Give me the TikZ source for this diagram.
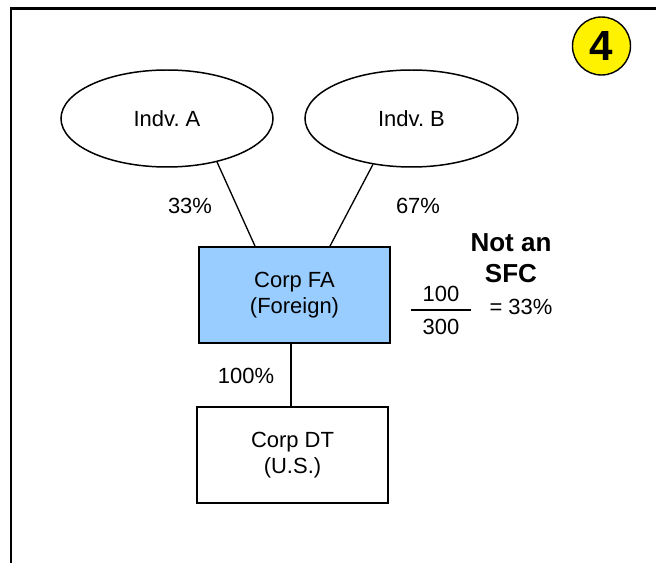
\documentclass[tikz,border=0pt]{standalone}
\usepackage{fontspec}
\setmainfont{Liberation Sans}
\usetikzlibrary{shapes.geometric}

\definecolor{boxblue}{HTML}{99CCFF}
\tikzset{
  owner/.style={ellipse,draw,line width=0.85pt,minimum width=4.24cm,minimum height=1.94cm,inner sep=0pt,font=\fontsize{12.5}{14.8}\selectfont},
  corp/.style={rectangle,draw,line width=1pt,minimum width=3.82cm,minimum height=1.92cm,align=center,font=\fontsize{12.5}{14.8}\selectfont},
  pct/.style={font=\fontsize{12.5}{14.8}\selectfont},
  link/.style={line width=0.75pt}
}

\begin{document}
\frenchspacing
\begin{tikzpicture}
    \useasboundingbox (0,0) rectangle (13.12,-11.26);
    \draw[line width=1.7pt] (0.22,-11.26) -- (0.22,-0.17) -- (13.12,-0.17);

    \node[circle,draw,line width=0.8pt,fill=yellow,minimum size=1.16cm,inner sep=0pt,font=\bfseries\fontsize{24}{28}\selectfont] (badge) at (12.03,-0.92) {4};

    \node[owner] (indA) at (3.34,-2.37) {Indv.\ A};
    \node[owner,minimum width=4.26cm] (indB) at (8.23,-2.37) {Indv.\ B};
    \node[corp,fill=boxblue] (corpFA) at (5.89,-5.90) {Corp FA\\(Foreign)};
    \node[corp] (corpDT) at (5.85,-9.10) {Corp DT\\(U.S.)};

    \draw[link] (indA.-41) -- ([xshift=-0.79cm]corpFA.north);
    \draw[link] (indB.-130) -- ([xshift=0.71cm]corpFA.north);
    \draw[line width=1pt] ([xshift=-0.07cm]corpFA.south) -- ([xshift=-0.03cm]corpDT.north);

    \node[pct] (pctA) at (3.80,-4.12) {33\%};
    \node[pct] (pctB) at (8.36,-4.12) {67\%};
    \node[pct] (pctDT) at (4.92,-7.52) {100\%};

    \node[align=center,font=\bfseries\fontsize{14.8}{17.6}\selectfont] (notsfc) at (10.22,-5.17) {Not an\\SFC};
    \node[pct] (num) at (8.82,-5.88) {100};
    \node[pct] (den) at (8.82,-6.54) {300};
    \coordinate (barL) at (8.22,-6.20);
    \coordinate (barR) at (9.42,-6.20);
    \draw[line width=1.7pt] (barL) -- (barR);
    \node[pct] (ratio) at (10.42,-6.14) {= 33\%};
\end{tikzpicture}
\end{document}
